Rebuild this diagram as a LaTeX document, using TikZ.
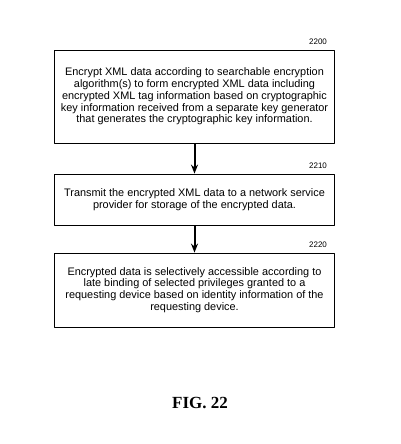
\documentclass[tikz,border=0pt]{standalone}
\usepackage{fontspec}
\setmainfont{Liberation Sans}
\newfontfamily\figfont{Liberation Serif}
\usetikzlibrary{arrows.meta}
\tikzset{
  stepbox/.style={draw,thick,minimum width=280pt,align=center,
    inner sep=0pt,font=\fontsize{10.9}{11.8}\selectfont},
  reflabel/.style={font=\fontsize{8}{9}\selectfont},
  flow/.style={line width=2pt,-{Stealth[length=9pt,width=7pt]}}
}
\begin{document}
\begin{tikzpicture}[x=1pt,y=-1pt,line join=round]
				\useasboundingbox (0,0) rectangle (400,444);
				\node[stepbox,minimum height=93pt] (encrypt) at (194.5,96.5) {Encrypt XML data according to searchable encryption\\ algorithm(s) to form encrypted XML data including\\ encrypted XML tag information based on cryptographic\\ key information received from a separate key generator\\ that generates the cryptographic key information.};
				\node[stepbox,minimum height=51pt] (transmit) at (194.5,199.5) {Transmit the encrypted XML data to a network service\\ provider for storage of the encrypted data.};
				\node[stepbox,minimum height=74pt] (access) at (194.5,290) {Encrypted data is selectively accessible according to\\ late binding of selected privileges granted to a\\ requesting device based on identity information of the\\ requesting device.};
				\node[reflabel] (l2200) at (318,42) {2200};
				\node[reflabel] (l2210) at (318,166) {2210};
				\node[reflabel] (l2220) at (318,245) {2220};
				\draw[flow] (encrypt.south) -- (transmit.north);
				\draw[flow] (transmit.south) -- (access.north);
				\node[font=\figfont\bfseries\fontsize{17}{20}\selectfont] (fig) at (200,403) {FIG. 22};
\end{tikzpicture}
\end{document}
